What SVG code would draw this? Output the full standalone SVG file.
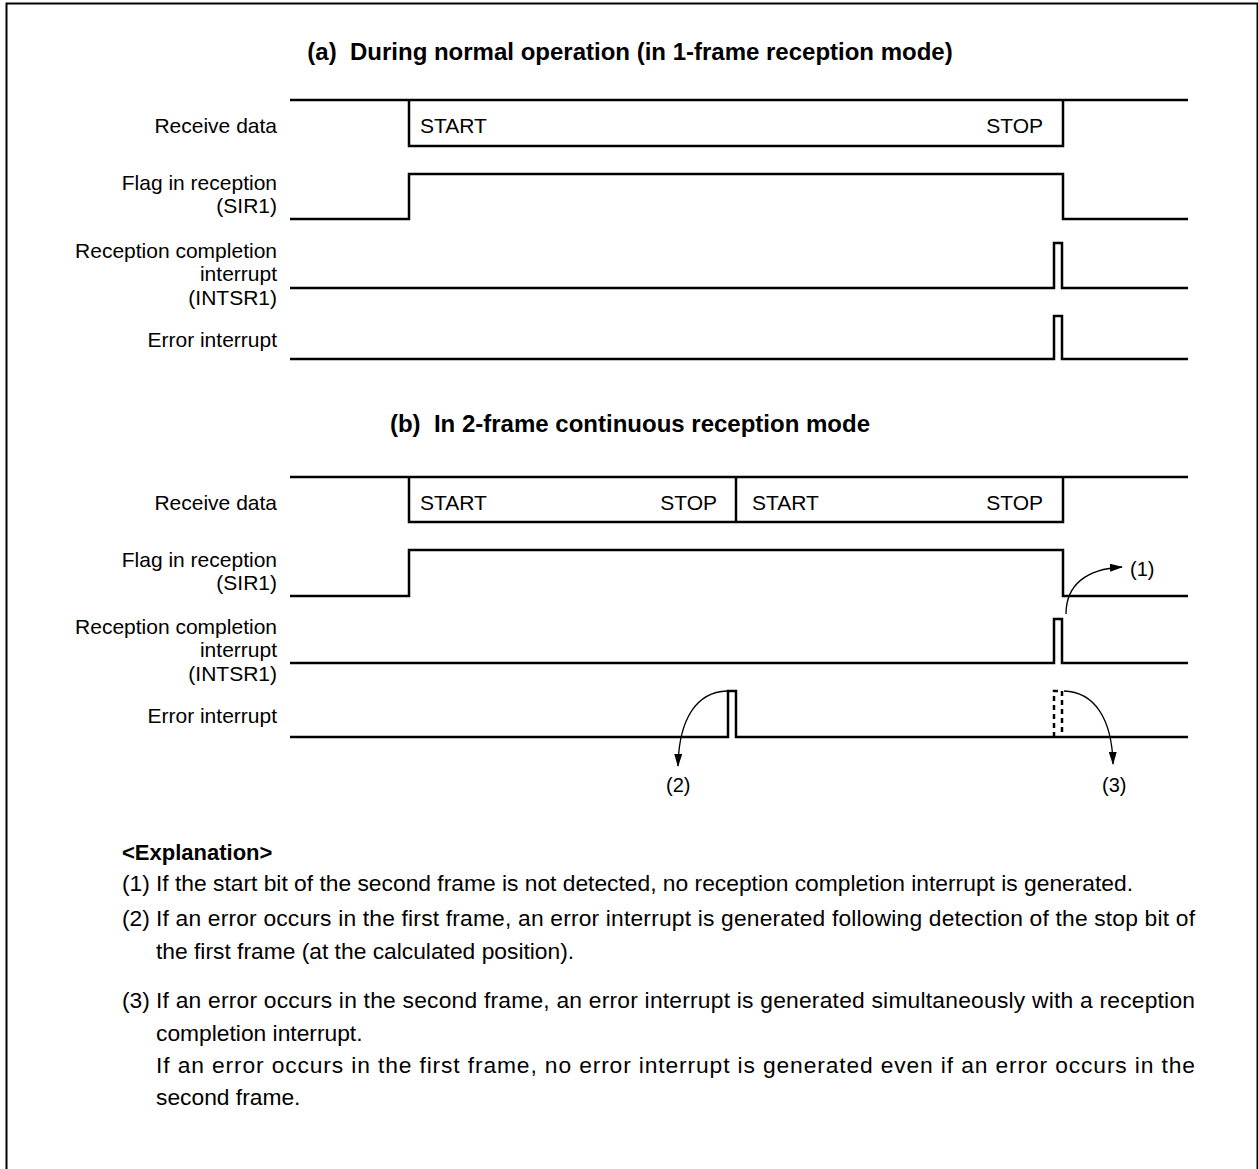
<svg xmlns="http://www.w3.org/2000/svg" width="1258" height="1169" viewBox="0 0 1258 1169">
<style>
.w{fill:none;stroke:#000;stroke-width:2.5}
.d{fill:none;stroke:#000;stroke-width:2.5;stroke-dasharray:5 4}
.a{fill:none;stroke:#000;stroke-width:1.3}
.t{font-family:"Liberation Sans",Arial,Helvetica,sans-serif;fill:#000}
.title{font-size:24px;font-weight:bold;text-anchor:middle;white-space:pre}
.lbl{font-size:21px;text-anchor:end}
.sig{font-size:21px}
.num{font-size:20px}
.ex{font-size:22.8px}
.exb{font-size:22px;font-weight:bold}
</style>
<defs>
<marker id="ah" viewBox="0 0 13 8" refX="12" refY="4" markerWidth="13" markerHeight="8" markerUnits="userSpaceOnUse" orient="auto">
<path d="M0,0 L13,4 L0,8 Z" fill="#000"/>
</marker>
</defs>
<rect x="6.5" y="3.5" width="1251" height="1200" fill="#fff" stroke="#000" stroke-width="2"/>

<text class="t title" x="630" y="60" xml:space="preserve">(a)  During normal operation (in 1-frame reception mode)</text>

<g id="a-receive-data">
<text class="t lbl" x="277" y="133">Receive data</text>
<path class="w" d="M290,100 H1188 M409,100 V146 H1063 V100"/>
<text class="t sig" x="420" y="133">START</text>
<text class="t sig" x="1043" y="133" text-anchor="end">STOP</text>
</g>
<g id="a-flag">
<text class="t lbl" x="277" y="190">Flag in reception</text>
<text class="t lbl" x="277" y="213">(SIR1)</text>
<path class="w" d="M290,219 H409 V174 H1063 V219 H1188"/>
</g>
<g id="a-intsr1">
<text class="t lbl" x="277" y="258">Reception completion</text>
<text class="t lbl" x="277" y="281">interrupt</text>
<text class="t lbl" x="277" y="305">(INTSR1)</text>
<path class="w" d="M290,288 H1054 V243 H1062 V288 H1188"/>
</g>
<g id="a-error">
<text class="t lbl" x="277" y="347">Error interrupt</text>
<path class="w" d="M290,359 H1054 V316 H1062 V359 H1188"/>
</g>

<text class="t title" x="630" y="432" xml:space="preserve">(b)  In 2-frame continuous reception mode</text>

<g id="b-receive-data">
<text class="t lbl" x="277" y="510">Receive data</text>
<path class="w" d="M290,477 H1188 M409,477 V522 H1063 V477 M736,477 V522"/>
<text class="t sig" x="420" y="510">START</text>
<text class="t sig" x="717" y="510" text-anchor="end">STOP</text>
<text class="t sig" x="752" y="510">START</text>
<text class="t sig" x="1043" y="510" text-anchor="end">STOP</text>
</g>
<g id="b-flag">
<text class="t lbl" x="277" y="567">Flag in reception</text>
<text class="t lbl" x="277" y="590">(SIR1)</text>
<path class="w" d="M290,596 H409 V550 H1063 V596 H1188"/>
</g>
<g id="b-intsr1">
<text class="t lbl" x="277" y="634">Reception completion</text>
<text class="t lbl" x="277" y="657">interrupt</text>
<text class="t lbl" x="277" y="681">(INTSR1)</text>
<path class="w" d="M290,663 H1054 V619 H1062 V663 H1188"/>
</g>
<g id="b-error">
<text class="t lbl" x="277" y="723">Error interrupt</text>
<path class="w" d="M290,737 H728 V691 H736 V737 H1188"/>
<path class="d" d="M1054,737 V691 H1062 V737"/>
</g>

<g id="connectors">
<path class="a" d="M1066,614 C1066,585 1086,569 1122,567" marker-end="url(#ah)"/>
<path class="a" d="M727,691 C697,692 679,718 678,766" marker-end="url(#ah)"/>
<path class="a" d="M1064,691 C1094,692 1112,718 1113,764" marker-end="url(#ah)"/>
</g>
<g id="callouts">
<text class="t num" x="1130" y="576">(1)</text>
<text class="t num" x="666" y="792">(2)</text>
<text class="t num" x="1102" y="792">(3)</text>
</g>

<g id="explanation">
<text class="t exb" x="122" y="860">&lt;Explanation&gt;</text>
<text class="t ex" x="122" y="891">(1)</text>
<text class="t ex" x="156" y="891">If the start bit of the second frame is not detected, no reception completion interrupt is generated.</text>
<text class="t ex" x="122" y="926">(2)</text>
<text class="t ex" x="156" y="926" textLength="1039" lengthAdjust="spacing">If an error occurs in the first frame, an error interrupt is generated following detection of the stop bit of</text>
<text class="t ex" x="156" y="959">the first frame (at the calculated position).</text>
<text class="t ex" x="122" y="1008">(3)</text>
<text class="t ex" x="156" y="1008" textLength="1039" lengthAdjust="spacing">If an error occurs in the second frame, an error interrupt is generated simultaneously with a reception</text>
<text class="t ex" x="156" y="1041">completion interrupt.</text>
<text class="t ex" x="156" y="1073" textLength="1039" lengthAdjust="spacing">If an error occurs in the first frame, no error interrupt is generated even if an error occurs in the</text>
<text class="t ex" x="156" y="1105">second frame.</text>
</g>
</svg>
